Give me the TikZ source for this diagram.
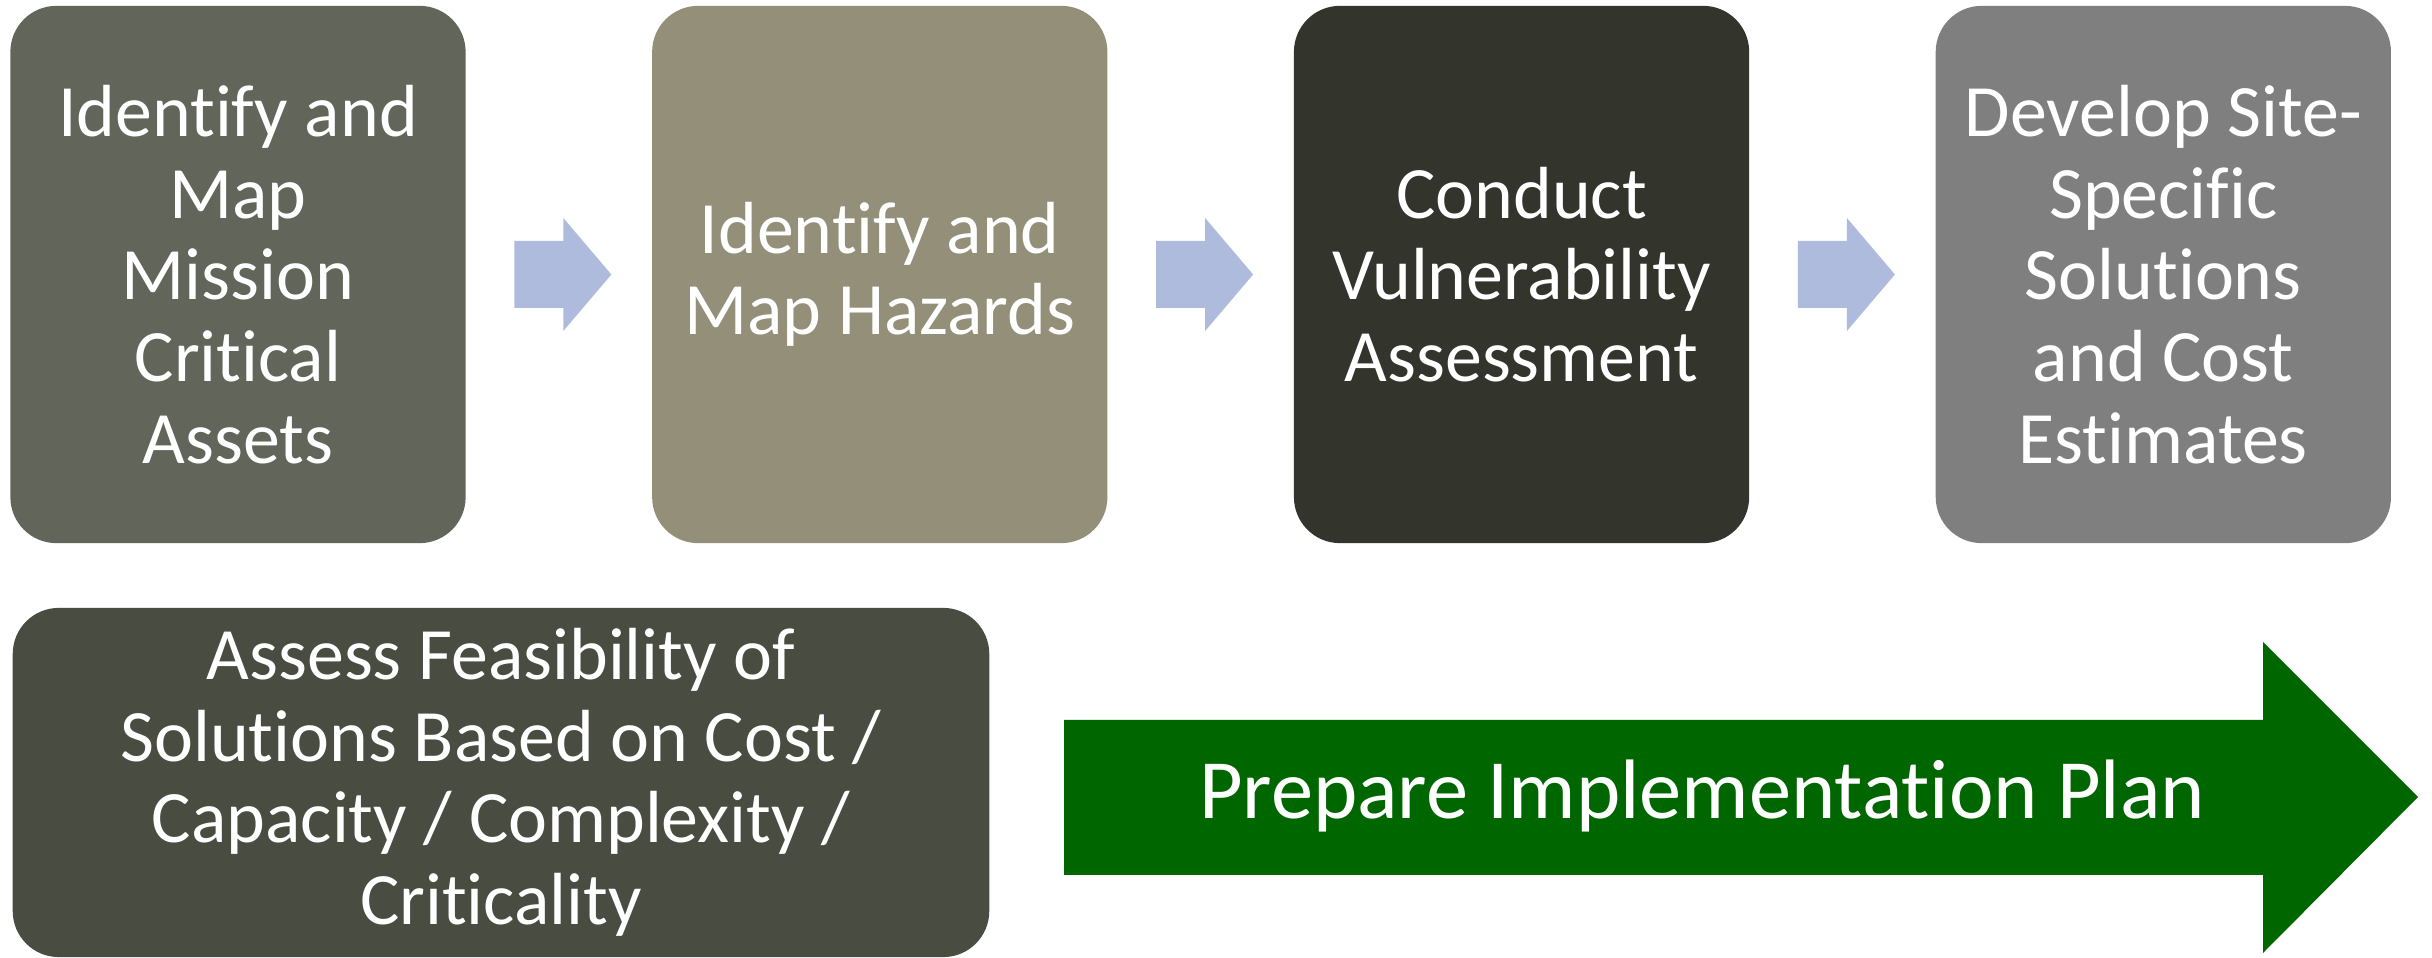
\documentclass[tikz,border=0pt]{standalone}
\usepackage{fontspec}
\setmainfont{Carlito}[Ligatures=NoCommon]
\usetikzlibrary{positioning}
\definecolor{stepone}{HTML}{62665A}
\definecolor{steptwo}{HTML}{938F78}
\definecolor{stepthree}{HTML}{33342C}
\definecolor{stepfour}{HTML}{7F7F7F}
\definecolor{stepfive}{HTML}{494C40}
\definecolor{planfill}{HTML}{006600}
\definecolor{arrowfill}{HTML}{AFBBDD}
\tikzset{
	stepbox/.style={rounded corners=0.46cm,minimum width=4.55cm,minimum height=5.37cm,
		text=white,align=center,font=\fontsize{21}{23.2}\selectfont,inner sep=0pt},
	smallarrow/.style={fill=arrowfill},
}
\begin{document}
	\begin{tikzpicture}[x=0.01cm,y=0.01cm]
		\useasboundingbox (0,0) rectangle (2432,957);
		\node[stepbox,fill=stepone] (assets) at (238,682.5) {Identify and\\Map\\Mission\\Critical\\Assets};
		\node[stepbox,fill=steptwo,right=1.85cm of assets] (hazards) {Identify and\\Map Hazards};
		\node[stepbox,fill=stepthree,right=1.85cm of hazards] (vuln) {Conduct\\Vulnerability\\Assessment};
		\node[stepbox,fill=stepfour,right=1.85cm of vuln] (solutions) {Develop Site-\\Specific\\Solutions\\and Cost\\Estimates};
		% small arrows between the steps
		\foreach \a in {assets,hazards,vuln}
			\fill[smallarrow,shift={(\a.east)}] (48,-33.5) -- (97,-33.5) -- (97,-56.5) -- (145,0)
				-- (97,56.5) -- (97,33.5) -- (48,33.5) -- cycle;
		\node[stepbox,fill=stepfive,minimum width=9.76cm,minimum height=3.49cm] (feasible) at (501,174.5)
			{Assess Feasibility of\\Solutions Based on Cost /\\Capacity / Complexity /\\Criticality};
		% big arrow
		\coordinate (tail) at (1064,160);
		\coordinate (tip) at (2418,160);
		\fill[planfill] (1064,82) -- (2263,82) -- (2263,4) -- (tip) -- (2263,315) -- (2263,237) -- (1064,237) -- cycle;
		\node[text=white,font=\fontsize{24}{28}\selectfont] (plan) at (1702,161) {Prepare Implementation Plan};
	\end{tikzpicture}
\end{document}
